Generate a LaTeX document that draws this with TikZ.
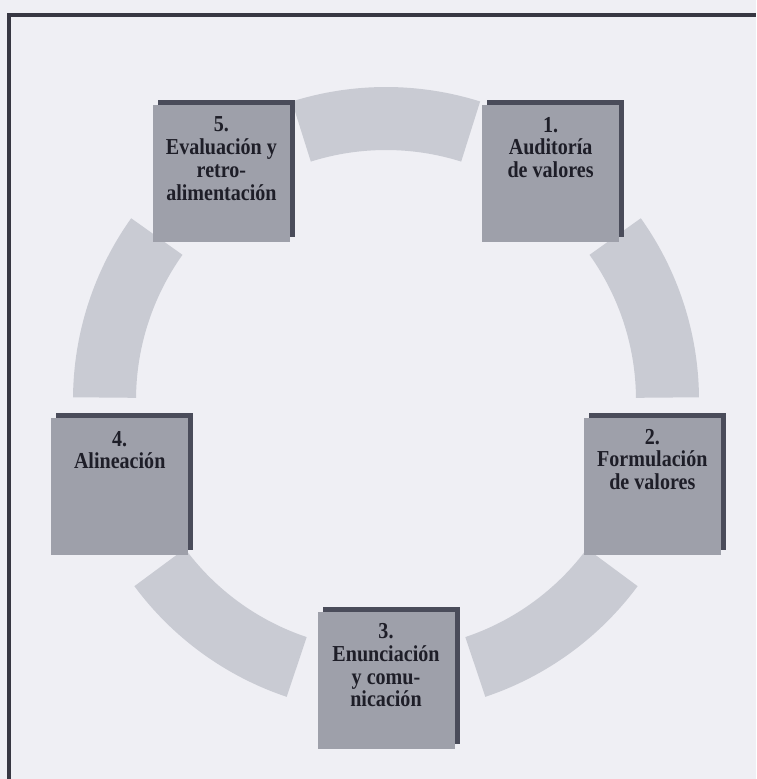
\documentclass[tikz,border=0pt]{standalone}
\usepackage{fontspec}
\setmainfont{Liberation Serif}
\newfontfamily\boxfont[FakeStretch=0.88]{Liberation Serif}
\usetikzlibrary{shadows,calc}
\definecolor{bgc}{RGB}{239,239,244}
\definecolor{ringc}{RGB}{201,203,211}
\definecolor{boxc}{RGB}{158,160,170}
\definecolor{shadc}{RGB}{74,76,90}
\definecolor{framec}{RGB}{55,55,66}
\definecolor{txtc}{RGB}{30,30,40}
\tikzset{
  stepbox/.style={rectangle, minimum width=137, minimum height=137, inner sep=0,
    fill=boxc, drop shadow={shadow xshift=5pt, shadow yshift=5pt, fill=shadc, opacity=1}},
  lbl/.style={anchor=north, inner sep=0, align=center, text=txtc,
    font=\boxfont\fontsize{22.8}{22.7}\selectfont\bfseries},
  ringseg/.style={fill=ringc},
}
\begin{document}
\begin{tikzpicture}[x=1pt,y=1pt]
\fill[bgc] (0,0) rectangle (756,-779);
\useasboundingbox (0,0) rectangle (756,-779);
% frame
\draw[framec, line width=3.6] (9,-779) -- (9,-15) -- (756,-15);
% ring
\coordinate (c) at (386,-400);
\foreach \m in {90,162,234,306,18}{
  \fill[ringseg] ($(c)+(\m-17.5:313)$) arc[start angle=\m-17.5, end angle=\m+17.5, radius=313]
     -- ($(c)+(\m+17.5:250)$) arc[start angle=\m+17.5, end angle=\m-17.5, radius=250] -- cycle;
}
% boxes
\node[stepbox] (b1) at ($(c)+(54:280)$) {};
\node[stepbox] (b2) at ($(c)+(-18:280)$) {};
\node[stepbox] (b3) at ($(c)+(-90:280)$) {};
\node[stepbox] (b4) at ($(c)+(198:280)$) {};
\node[stepbox] (b5) at ($(c)+(126:280)$) {};
\node[lbl] (t1) at ([yshift=-12]b1.north) {1.\\Auditoría\\de valores};
\node[lbl] (t2) at ([yshift=-11]b2.north) {2.\\Formulación\\de valores};
\node[lbl] (t3) at ([yshift=-12]b3.north) {3.\\Enunciación\\y comu-\\nicación};
\node[lbl] (t4) at ([yshift=-13]b4.north) {4.\\Alineación};
\node[lbl] (t5) at ([yshift=-12]b5.north) {5.\\Evaluación y\\retro-\\alimentación};
\end{tikzpicture}
\end{document}
